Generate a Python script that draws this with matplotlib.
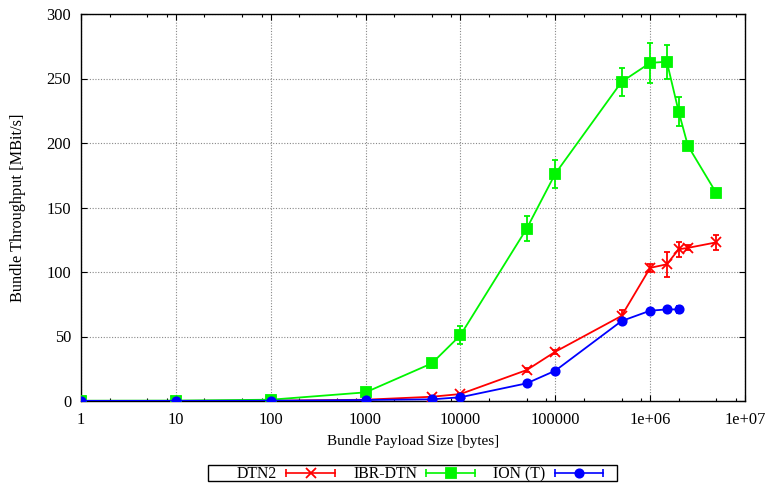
import matplotlib
matplotlib.use("Agg")
import matplotlib.pyplot as plt
from matplotlib.lines import Line2D
from matplotlib.patches import Rectangle
from matplotlib.legend_handler import HandlerBase
from matplotlib.ticker import LogLocator, FixedLocator, FixedFormatter, NullFormatter

# payload sizes [bytes]
sizes = [1, 10, 100, 1000, 5000, 10000, 50000, 100000, 500000, 1e6, 1.5e6, 2e6, 2.5e6, 5e6]
sizes_ion = [1, 10, 100, 1000, 5000, 10000, 50000, 100000, 500000, 1e6, 1.5e6, 2e6]

# throughput [MBit/s] and error
dtn2 = [0.1, 0.1, 0.2, 1.0, 3.3, 5.4, 24.0, 38.2, 66.0, 103.2, 106.0, 117.6, 118.7, 123.0]
dtn2_err = [0, 0, 0, 0.3, 0.5, 0.8, 1.5, 1.5, 4.5, 3.0, 9.7, 5.7, 2.0, 6.0]

ibr = [0.2, 0.3, 1.0, 6.7, 29.2, 51.0, 133.7, 176.2, 247.4, 262.1, 263.0, 224.2, 197.9, 161.0]
ibr_err = [0, 0, 0.3, 0.8, 3.6, 7.2, 10.0, 11.0, 11.0, 15.5, 13.2, 11.2, 3.0, 2.0]

ion = [0.1, 0.1, 0.2, 0.8, 1.3, 2.9, 13.7, 23.5, 62.0, 70.0, 71.0, 71.0]
ion_err = [0, 0, 0, 0.2, 0.3, 0.4, 0.8, 1.0, 1.5, 1.5, 1.5, 3.0]

xtick_vals = [1, 10, 100, 1000, 10000, 100000, 1e6, 1e7]
xtick_labels = ["1", "10", "100", "1000", "10000", "100000", "1e+06", "1e+07"]

plt.rcParams["font.family"] = ["Liberation Serif", "DejaVu Serif"]
plt.rcParams["font.size"] = 11


class ErrKey(HandlerBase):
    # gnuplot style key sample: line with caps at both ends, marker in the middle
    def create_artists(self, legend, orig, xdescent, ydescent, width, height, fontsize, trans):
        y = height / 2 - ydescent
        x0, x1 = -xdescent, -xdescent + width
        c = orig.get_color()
        line = Line2D([x0, x1], [y, y], color=c, lw=1.2)
        caps = Line2D([x0, x1], [y, y], color=c, ls="none", marker="|", ms=6, mew=1.2)
        mk = Line2D([(x0 + x1) / 2], [y], color=c, marker=orig.get_marker(),
                    ms=orig.get_markersize(), mew=orig.get_markeredgewidth(), ls="none")
        arts = [line, caps, mk]
        for a in arts:
            a.set_transform(trans)
        return arts


W, H = 769, 483
fig = plt.figure(figsize=(W / 100, H / 100), dpi=100)
ax = fig.add_axes([81 / W, 1 - 401 / H, (745 - 81) / W, (401 - 14) / H])

series = [
    ("DTN2", sizes, dtn2, dtn2_err, "#ff0000", "x", 6.5),
    ("IBR-DTN", sizes, ibr, ibr_err, "#00f500", "s", 6.5),
    ("ION (T)", sizes_ion, ion, ion_err, "#0000ff", "o", 6),
]

handles = []
for name, xs, ys, es, col, mk, ms in series:
    ax.errorbar(xs, ys, yerr=es, color=col, marker=mk, ms=ms, mew=1.3, lw=1.3,
                elinewidth=1.3, capsize=2.5, capthick=1.3, zorder=3)
    handles.append(Line2D([], [], color=col, marker=mk, ms=ms, mew=1.3))

ax.set_xscale("log")
ax.set_xlim(1, 1e7)
ax.set_ylim(0, 300)
ax.xaxis.set_major_locator(FixedLocator(xtick_vals))
ax.xaxis.set_major_formatter(FixedFormatter(xtick_labels))
ax.xaxis.set_minor_locator(LogLocator(base=10, subs=[2, 5, 8]))
ax.xaxis.set_minor_formatter(NullFormatter())
ax.set_yticks(range(0, 301, 50))

ax.grid(True, which="major", color="#888888", ls=(0, (1, 1.5)), lw=0.8)
ax.tick_params(which="both", direction="in", top=True, right=True, width=0.8)
ax.tick_params(which="major", length=4.5, labelsize=11.8)
ax.tick_params(which="minor", length=2.5)
ax.tick_params(axis="x", pad=8)
ax.tick_params(axis="y", pad=7)
for sp in ax.spines.values():
    sp.set_linewidth(1.0)

ax.set_xlabel("Bundle Payload Size [bytes]", labelpad=5, fontsize=10.9)
ax.set_ylabel("Bundle Throughput [MBit/s]", labelpad=15, fontsize=11.7)

# key box drawn separately so the entries can sit right-aligned like gnuplot
fig.add_artist(Rectangle((208 / W, 1 - 481 / H), (617 - 208) / W, 16 / H,
                         transform=fig.transFigure, fill=False, ec="black", lw=1.0,
                         zorder=0))
leg = fig.legend(handles, [s[0] for s in series], loc="center",
                 bbox_to_anchor=(420 / W, 1 - 474.5 / H), ncol=3,
                 markerfirst=False, handler_map={Line2D: ErrKey()},
                 handlelength=3.1, handletextpad=0.6, columnspacing=1.15,
                 borderpad=0.0, frameon=False, fontsize=11.3)

fig.savefig("out.png", dpi=100)
